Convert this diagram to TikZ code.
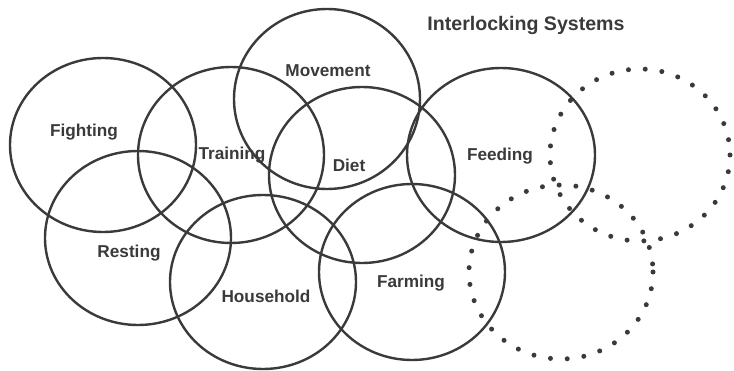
\documentclass[tikz,border=0pt]{standalone}
\usepackage{fontspec}
\setmainfont{Liberation Sans}
\usetikzlibrary{calc}
\definecolor{ink}{HTML}{3A3A3A}

\begin{document}
\begin{tikzpicture}[x=1pt, y=-1pt,
		ring/.style={line width=2.4pt, color=ink},
		dotring/.style={line width=5pt, color=ink, line cap=round, dash pattern=on 0pt off 16.8pt},
		lbl/.style={text=ink, font=\bfseries\fontsize{17.2}{19}\selectfont, inner sep=0pt},
		ttl/.style={text=ink, font=\bfseries\fontsize{19.6}{22}\selectfont, inner sep=0pt}]
			%%%%% START %%%%%
			
			\useasboundingbox (0, 0) rectangle (734, 371);
			
			\node[ttl] (title) at (526, 25) {Interlocking Systems};
			
			\draw[ring] (103, 145) ellipse (93 and 87);
			\draw[ring] (231, 155) ellipse (93 and 88);
			\draw[ring] (327, 99) ellipse (93 and 90);
			\draw[ring] (362, 175) ellipse (93 and 88);
			\draw[ring] (501, 155) ellipse (94 and 87);
			\draw[ring] (138, 238) ellipse (93 and 87);
			\draw[ring] (263, 282) ellipse (93 and 87);
			\draw[ring] (412, 272) ellipse (93 and 88);
			
			\draw[dotring] (640, 155) ellipse (90 and 86);
			\draw[dotring] (561, 272) ellipse (92 and 87);
			
			\node[lbl] (fighting) at (84, 132) {Fighting};
			\node[lbl] (training) at (232, 155) {Training};
			\node[lbl] (movement) at (328, 71) {Movement};
			\node[lbl] (diet) at (349, 165) {Diet};
			\node[lbl] (feeding) at (500, 156) {Feeding};
			\node[lbl] (resting) at (129, 253) {Resting};
			\node[lbl] (household) at (266, 296) {Household};
			\node[lbl] (farming) at (411, 283) {Farming};
			
			%%%%% END %%%%%
		\end{tikzpicture}
\end{document}
